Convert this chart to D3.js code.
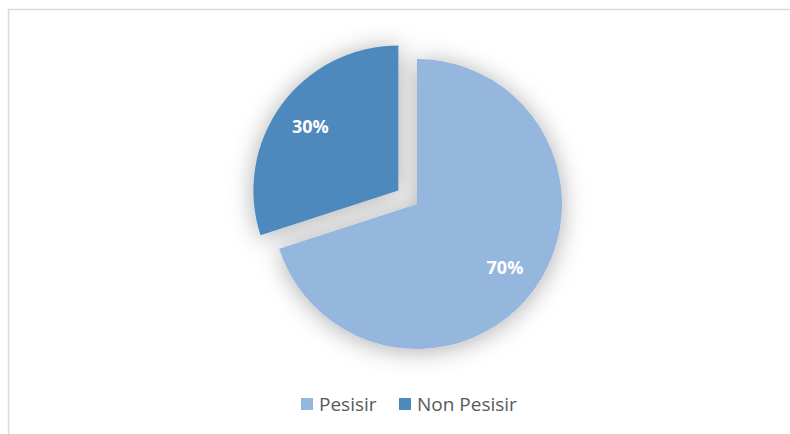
<!DOCTYPE html>
<html>
<head>
<meta charset="utf-8">
<script src="https://cdn.jsdelivr.net/npm/d3@7"></script>
<style>
  body { margin: 0; background: #fff; }
  svg { display: block; }
</style>
</head>
<body>
<div id="chart"></div>
<script>
// data
const categories = ["Pesisir", "Non Pesisir"];
const values = [70, 30];
const colors = ["#95B7DE", "#4E89BC"];

const width = 790;
const height = 434;
const radius = 145;
const cx = 417, cy = 204;
const explode = 23;

const svg = d3.select("#chart")
  .append("svg")
  .attr("width", width)
  .attr("height", height);

// soft shadow like the office chart
const defs = svg.append("defs");
const filter = defs.append("filter")
  .attr("id", "shadow")
  .attr("x", "-40%").attr("y", "-40%")
  .attr("width", "180%").attr("height", "180%");
filter.append("feDropShadow")
  .attr("dx", 0).attr("dy", 2)
  .attr("stdDeviation", 12)
  .attr("flood-color", "#000")
  .attr("flood-opacity", 0.32);

// chart area border (runs off the right and bottom)
svg.append("rect")
  .attr("x", 8.5).attr("y", 9.5)
  .attr("width", width).attr("height", height)
  .attr("fill", "none")
  .attr("stroke", "#d9d9d9")
  .attr("stroke-width", 1.5);

const color = d3.scaleOrdinal().domain(categories).range(colors);

const pie = d3.pie().value((d, i) => values[i]).sort(null);
const arc = d3.arc().innerRadius(0).outerRadius(radius);
const labelArc = d3.arc().innerRadius(radius * 0.75).outerRadius(radius * 0.75);

const arcs = pie(categories);

// offset for the exploded slice (only Non Pesisir is pulled out)
function offset(d) {
  if (d.data !== "Non Pesisir") return [0, 0];
  const a = (d.startAngle + d.endAngle) / 2;
  return [Math.sin(a) * explode, -Math.cos(a) * explode];
}

const g = svg.append("g")
  .attr("transform", `translate(${cx}, ${cy})`);

g.append("g")
  .attr("filter", "url(#shadow)")
  .selectAll(".slice")
  .data(arcs)
  .enter()
  .append("path")
  .attr("class", "slice")
  .attr("d", arc)
  .attr("fill", d => color(d.data))
  .attr("transform", d => `translate(${offset(d)})`);

// percentage labels
g.selectAll(".label")
  .data(arcs)
  .enter()
  .append("text")
  .attr("class", "label")
  .attr("transform", d => {
    const c = labelArc.centroid(d);
    const o = offset(d);
    return `translate(${c[0] + o[0]}, ${c[1] + o[1]})`;
  })
  .attr("text-anchor", "middle")
  .attr("dy", "0.35em")
  .attr("fill", "#fff")
  .attr("font-family", "'Open Sans', sans-serif")
  .attr("font-weight", "bold")
  .attr("font-size", "18px")
  .text(d => d3.format(".0%")(d.value / d3.sum(values)));

// legend
const legendX = [301, 399];
const legend = svg.selectAll(".legend")
  .data(categories)
  .enter()
  .append("g")
  .attr("class", "legend")
  .attr("transform", (d, i) => `translate(${legendX[i]}, 398)`);

legend.append("rect")
  .attr("width", 12)
  .attr("height", 12)
  .attr("fill", color);

legend.append("text")
  .attr("x", 18)
  .attr("y", 6)
  .attr("dy", "0.36em")
  .attr("fill", "#595959")
  .attr("font-family", "'Open Sans', sans-serif")
  .attr("font-size", "19px")
  .text(d => d);
</script>
</body>
</html>
